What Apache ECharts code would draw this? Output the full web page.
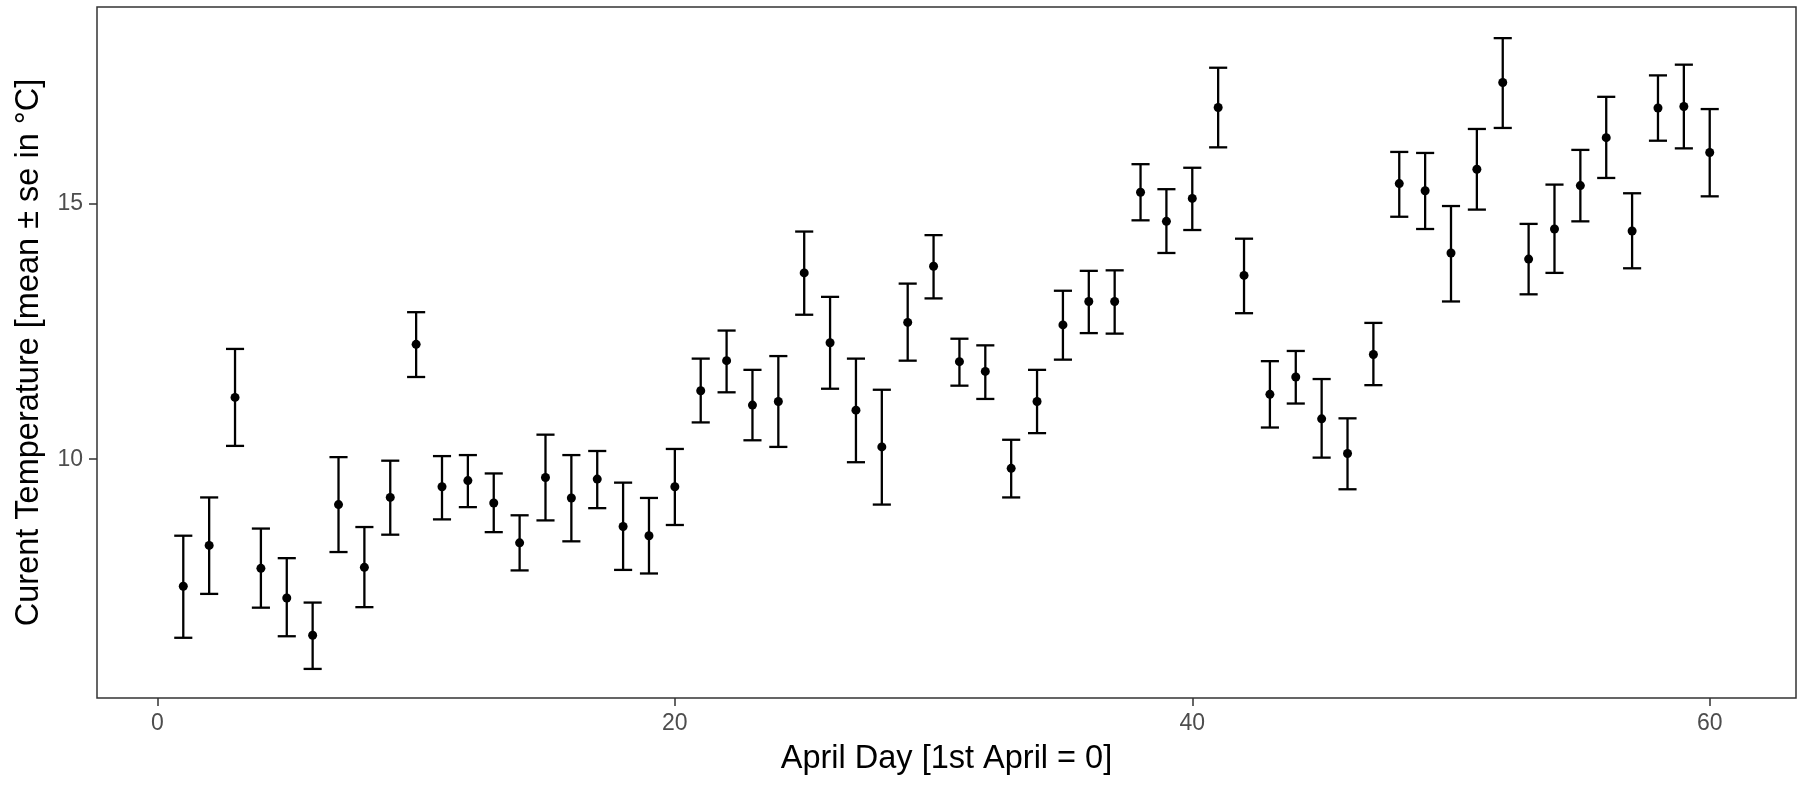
<!DOCTYPE html>
<html>
<head>
<meta charset="utf-8">
<script src="https://cdn.jsdelivr.net/npm/echarts@6/dist/echarts.min.js"></script>
<style>
html,body{margin:0;padding:0;background:#fff;}
#chart{width:1802px;height:785px;}
</style>
</head>
<body>
<div id="chart"></div>
<script>
// ---- data ----
const days = [1,2,3,4,5,6,7,8,9,10,11,12,13,14,15,16,17,18,19,20,
  21,22,23,24,25,26,27,28,29,30,31,32,33,34,35,36,37,38,39,40,
  41,42,43,44,45,46,47,48,49,50,51,52,53,54,55,56,57,58,59,60];
const meanTemp = [7.51,8.31,11.21,7.86,7.28,6.55,9.11,7.88,9.25,12.25,
  9.46,9.58,9.14,8.36,9.64,9.24,9.61,8.68,8.50,9.46,
  11.34,11.93,11.06,11.13,13.65,12.28,10.96,10.24,12.68,13.78,
  11.91,11.72,9.82,11.13,12.63,13.09,13.09,15.23,14.66,15.11,
  16.89,13.60,11.27,11.61,10.79,10.11,12.05,15.40,15.26,14.04,
  15.68,17.38,13.92,14.51,15.36,16.30,14.47,16.88,16.91,16.01];
const upperSe = [8.50,9.25,12.16,8.64,8.06,7.19,10.04,8.67,9.97,12.88,
  10.06,10.08,9.72,8.90,10.48,10.08,10.16,9.54,9.24,10.20,
  11.97,12.52,11.75,12.02,14.46,13.18,11.97,11.36,13.44,14.39,
  12.36,12.23,10.38,11.75,13.30,13.69,13.70,15.78,15.29,15.71,
  17.67,14.32,11.92,12.12,11.57,10.80,12.67,16.02,16.00,14.96,
  16.47,18.25,14.61,15.38,16.06,17.10,15.21,17.52,17.73,16.86];
const lowerSe = [6.50,7.36,10.26,7.09,6.53,5.89,8.18,7.10,8.52,11.61,
  8.82,9.06,8.57,7.82,8.80,8.39,9.04,7.83,7.76,8.71,
  10.72,11.31,10.37,10.24,12.83,11.38,9.94,9.11,11.93,13.15,
  11.44,11.18,9.25,10.51,11.95,12.47,12.46,14.68,14.04,14.49,
  16.11,12.86,10.62,11.09,10.03,9.41,11.45,14.75,14.51,13.09,
  14.89,16.49,13.23,13.65,14.66,15.51,13.74,16.24,16.09,15.15];
const xTicks = [0,20,40,60];
const yTicks = [10,15];
const xTitle = 'April Day [1st April = 0]';
const yTitle = 'Curent Temperature [mean \u00b1 se in \u00b0C]';

const pointData = days.map((d,i)=>[d, meanTemp[i]]);
const barData = days.map((d,i)=>[d, lowerSe[i], upperSe[i]]);

const FONT = '"Liberation Sans", Arial, Helvetica, sans-serif';
const chart = echarts.init(document.getElementById('chart'), null, {renderer:'canvas'});

const axisCommon = {
  type: 'value',
  nameLocation: 'middle',
  nameTextStyle: {color:'#000', fontSize:32.5, fontFamily:FONT},
  axisLine: {show:false, onZero:false},
  splitLine: {show:false},
  axisTick: {show:true, length:8, lineStyle:{color:'#333', width:1.5}},
  axisLabel: {color:'#4D4D4D', fontSize:23, fontFamily:FONT, margin:14}
};

chart.setOption({
  animation: false,
  backgroundColor: '#fff',
  grid: {left:97, right:6, top:7, bottom:87, show:true, borderColor:'#333', borderWidth:1.5, backgroundColor:'transparent'},
  xAxis: Object.assign({}, axisCommon, {
    min: -2.335, max: 63.335,
    name: xTitle, nameGap: 45,
    axisTick: Object.assign({}, axisCommon.axisTick, {customValues: xTicks}),
    axisLabel: Object.assign({}, axisCommon.axisLabel, {customValues: xTicks})
  }),
  yAxis: Object.assign({}, axisCommon, {
    min: 5.32, max: 18.86,
    name: yTitle, nameGap: 51,
    axisTick: Object.assign({}, axisCommon.axisTick, {customValues: yTicks}),
    axisLabel: Object.assign({}, axisCommon.axisLabel, {customValues: yTicks})
  }),
  series: [
    {
      type: 'custom',
      data: barData,
      encode: {x:0, y:[1,2]},
      renderItem: function(params, api){
        const x = api.value(0);
        const pLo = api.coord([x, api.value(1)]);
        const pHi = api.coord([x, api.value(2)]);
        const hw = api.size([0.7, 0])[0] / 2;
        const st = {stroke:'#000', lineWidth:2.3};
        return {type:'group', children:[
          {type:'line', shape:{x1:pLo[0], y1:pLo[1], x2:pHi[0], y2:pHi[1]}, style:st},
          {type:'line', shape:{x1:pHi[0]-hw, y1:pHi[1], x2:pHi[0]+hw, y2:pHi[1]}, style:st},
          {type:'line', shape:{x1:pLo[0]-hw, y1:pLo[1], x2:pLo[0]+hw, y2:pLo[1]}, style:st}
        ]};
      },
      z: 2
    },
    {
      type: 'scatter',
      data: pointData,
      symbol: 'circle',
      symbolSize: 9,
      itemStyle: {color:'#000', opacity:1},
      z: 3
    }
  ]
});
</script>
</body>
</html>
